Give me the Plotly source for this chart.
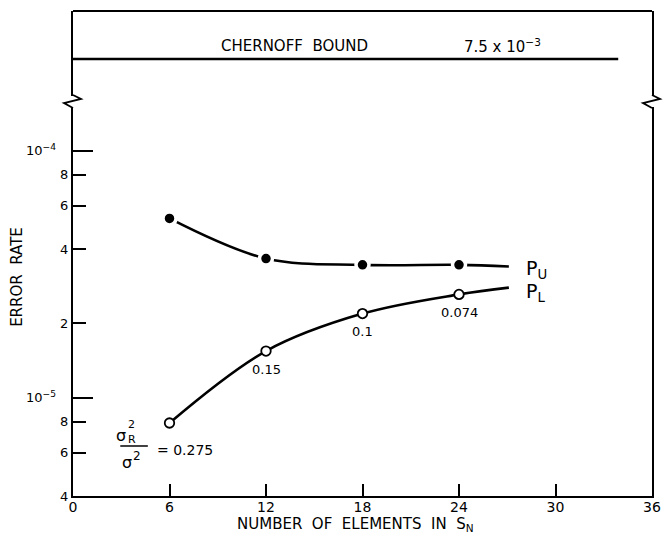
import math
import plotly.graph_objects as go

# Number of elements in S_N at which both bounds were evaluated
n_elements = [6, 12, 18, 24]
# Upper bound P_U (filled points)
p_upper = [5.32e-5, 3.66e-5, 3.45e-5, 3.45e-5]
# Lower bound P_L (open points)
p_lower = [7.9e-6, 1.545e-5, 2.19e-5, 2.62e-5]
# sigma_R^2 / sigma^2 noted beside each P_L point
variance_ratio = ["0.275", "0.15", "0.1", "0.074"]
# Where the two smooth curves stop on the right
curve_end_x = 27.1
p_upper_end = 3.4e-5
p_lower_end = 2.79e-5

# Chernoff bound, drawn above the axis break
chernoff_bound = 7.5e-3
chernoff_x = [0, 33.9]

x_ticks = [0, 6, 12, 18, 24, 30, 36]
y_tick_vals = [4e-6, 6e-6, 8e-6, 1e-5, 2e-5, 4e-5, 6e-5, 8e-5, 1e-4]
y_tick_text = ["4", "6", "8", "10<sup>−5</sup>\u00a0\u00a0\u00a0", "2", "4", "6", "8",
               "10<sup>−4</sup>\u00a0\u00a0\u00a0"]

FONT = "DejaVu Sans"
INK = "black"

W, H = 669, 536
M_L, M_R, M_T, M_B = 73, 8, 11, 40
plot_h = H - M_T - M_B
plot_w = W - M_L - M_R
px_per_decade = 247.0
px_per_unit_x = plot_w / 36.0

# lower panel (main log scale) and upper panel (broken-off part holding the bound)
break_px = 101                      # pixel row of the axis break
low_frac = (H - M_B - break_px) / plot_h
low_lo = math.log10(4e-6)
low_hi = low_lo + (H - M_B - break_px) / px_per_decade
up_h = break_px - M_T
up_lo = math.log10(chernoff_bound) - 42 / px_per_decade
up_hi = up_lo + up_h / px_per_decade


def paper_y_of(value, shift_px=0.0):
    """paper y of a value on the lower log axis, moved by shift_px (up positive)"""
    return low_frac * (math.log10(value) - low_lo) / (low_hi - low_lo) + shift_px / plot_h


fig = go.Figure()

# smooth curves
for series, end in ((p_upper, p_upper_end), (p_lower, p_lower_end)):
    fig.add_trace(go.Scatter(
        x=n_elements + [curve_end_x], y=series + [end],
        mode="lines", line=dict(color=INK, width=2.6, shape="spline", smoothing=1.0),
        hoverinfo="skip", showlegend=False))

# points
fig.add_trace(go.Scatter(
    x=n_elements, y=p_upper, mode="markers", name="P_U",
    marker=dict(size=13, color=INK, line=dict(color="white", width=3.5)),
    showlegend=False))
fig.add_trace(go.Scatter(
    x=n_elements, y=p_lower, mode="markers", name="P_L",
    marker=dict(size=9.5, color="white", line=dict(color=INK, width=1.8)),
    showlegend=False))

# Chernoff bound line in the upper panel
fig.add_trace(go.Scatter(
    x=chernoff_x, y=[chernoff_bound, chernoff_bound], yaxis="y2",
    mode="lines", line=dict(color=INK, width=2.4),
    hoverinfo="skip", showlegend=False))

ann = []


def txt(text, x, y, size=13, xref="x", yref="y", xanchor="center", yanchor="middle",
        xshift=0, yshift=0, angle=0):
    ann.append(dict(text=text, x=x, y=y, xref=xref, yref=yref, showarrow=False,
                    xanchor=xanchor, yanchor=yanchor, xshift=xshift, yshift=yshift,
                    textangle=angle, font=dict(family=FONT, size=size, color=INK)))


NB2 = "\u00a0\u00a0"

# titles of the upper panel
txt("CHERNOFF" + NB2 + "BOUND", 13.8, (H - M_B - 46) / plot_h, size=15, yref="paper")
txt("7.5 x 10<sup>−3</sup>", 26.7, (H - M_B - 46) / plot_h, size=15, yref="paper")

# curve names
txt("P<sub>U</sub>", curve_end_x, math.log10(p_upper_end), size=19, xanchor="left",
    xshift=15, yshift=-3)
txt("P<sub>L</sub>", curve_end_x, math.log10(p_lower_end), size=19, xanchor="left",
    xshift=15, yshift=-5)

# variance-ratio labels under the open points
for xv, yv, lab in zip(n_elements[1:], p_lower[1:], variance_ratio[1:]):
    txt(lab, xv, math.log10(yv), size=13, yshift=-18)

# first label written as a fraction: sigma_R^2 / sigma^2 = 0.275
x0, y0 = n_elements[0], math.log10(p_lower[0])
txt("σ", x0, y0, size=16, xshift=-49, yshift=-13)
txt("2", x0, y0, size=11, xshift=-38, yshift=-2)
txt("R", x0, y0, size=11, xshift=-38, yshift=-17)
txt("σ", x0, y0, size=16, xshift=-43, yshift=-40)
txt("2", x0, y0, size=12, xshift=-33, yshift=-33)
txt("= " + variance_ratio[0], x0, y0, size=14, xanchor="left", xshift=-15, yshift=-27)

# axis titles
txt("NUMBER" + NB2 + "OF" + NB2 + "ELEMENTS" + NB2 + "IN" + NB2 + "S<sub>N</sub>",
    (360 - M_L) / plot_w, (H - M_B - 524) / plot_h, size=15, xref="paper", yref="paper")
txt("ERROR" + NB2 + "RATE", (16 - M_L) / plot_w, (H - M_B - 277) / plot_h,
    size=15, xref="paper", yref="paper", angle=-90)

shapes = []
# fraction bar
bar_y = paper_y_of(p_lower[0], -23)
shapes.append(dict(type="line", xref="x", yref="paper",
                   x0=n_elements[0] - 50 / px_per_unit_x, x1=n_elements[0] - 22 / px_per_unit_x,
                   y0=bar_y, y1=bar_y, line=dict(color=INK, width=1.5)))
# top edge of the frame
shapes.append(dict(type="line", xref="paper", yref="paper", x0=0, x1=1, y0=1, y1=1,
                   line=dict(color=INK, width=2)))
# break marks on both vertical edges
for xa in (0, 1):
    shapes.append(dict(type="rect", xref="paper", yref="paper",
                       xsizemode="pixel", ysizemode="pixel", xanchor=xa, yanchor=low_frac,
                       x0=-2.5, x1=2.5, y0=-6, y1=5, fillcolor="white",
                       line=dict(width=0), layer="above"))
    shapes.append(dict(type="path", xref="paper", yref="paper",
                       xsizemode="pixel", ysizemode="pixel", xanchor=xa, yanchor=low_frac,
                       path="M 0,6 L 8,2 L -9,-2 L 0,-7",
                       line=dict(color=INK, width=1.8), layer="above"))

fig.update_layout(
    width=W, height=H,
    margin=dict(l=M_L, r=M_R, t=M_T, b=M_B),
    paper_bgcolor="white", plot_bgcolor="white",
    font=dict(family=FONT, color=INK, size=12),
    showlegend=False,
    xaxis=dict(range=[0, 36], tickmode="array", tickvals=x_ticks,
               ticks="inside", ticklen=12, tickwidth=1.8, tickcolor=INK,
               ticklabelstandoff=-3,
               showline=True, linecolor=INK, linewidth=2, showgrid=False,
               zeroline=False, anchor="y",
               tickfont=dict(family=FONT, size=14, color=INK)),
    yaxis=dict(type="log", range=[low_lo, low_hi], domain=[0, low_frac],
               tickmode="array", tickvals=y_tick_vals, ticktext=y_tick_text,
               ticks="inside", ticklen=13, tickwidth=1.8, tickcolor=INK,
               minor=dict(tickmode="array", tickvals=[1e-5, 1e-4], ticks="inside",
                          ticklen=20, tickwidth=1.8, tickcolor=INK, showgrid=False),
               showline=True, linecolor=INK, linewidth=2, mirror=True,
               showgrid=False, zeroline=False, anchor="x",
               tickfont=dict(family=FONT, size=13, color=INK)),
    yaxis2=dict(type="log", range=[up_lo, up_hi], domain=[low_frac, 1],
                showline=True, linecolor=INK, linewidth=2, mirror=True,
                showticklabels=False, ticks="", showgrid=False, zeroline=False,
                anchor="x"),
    annotations=ann,
    shapes=shapes,
)

fig.write_html("out.html")
